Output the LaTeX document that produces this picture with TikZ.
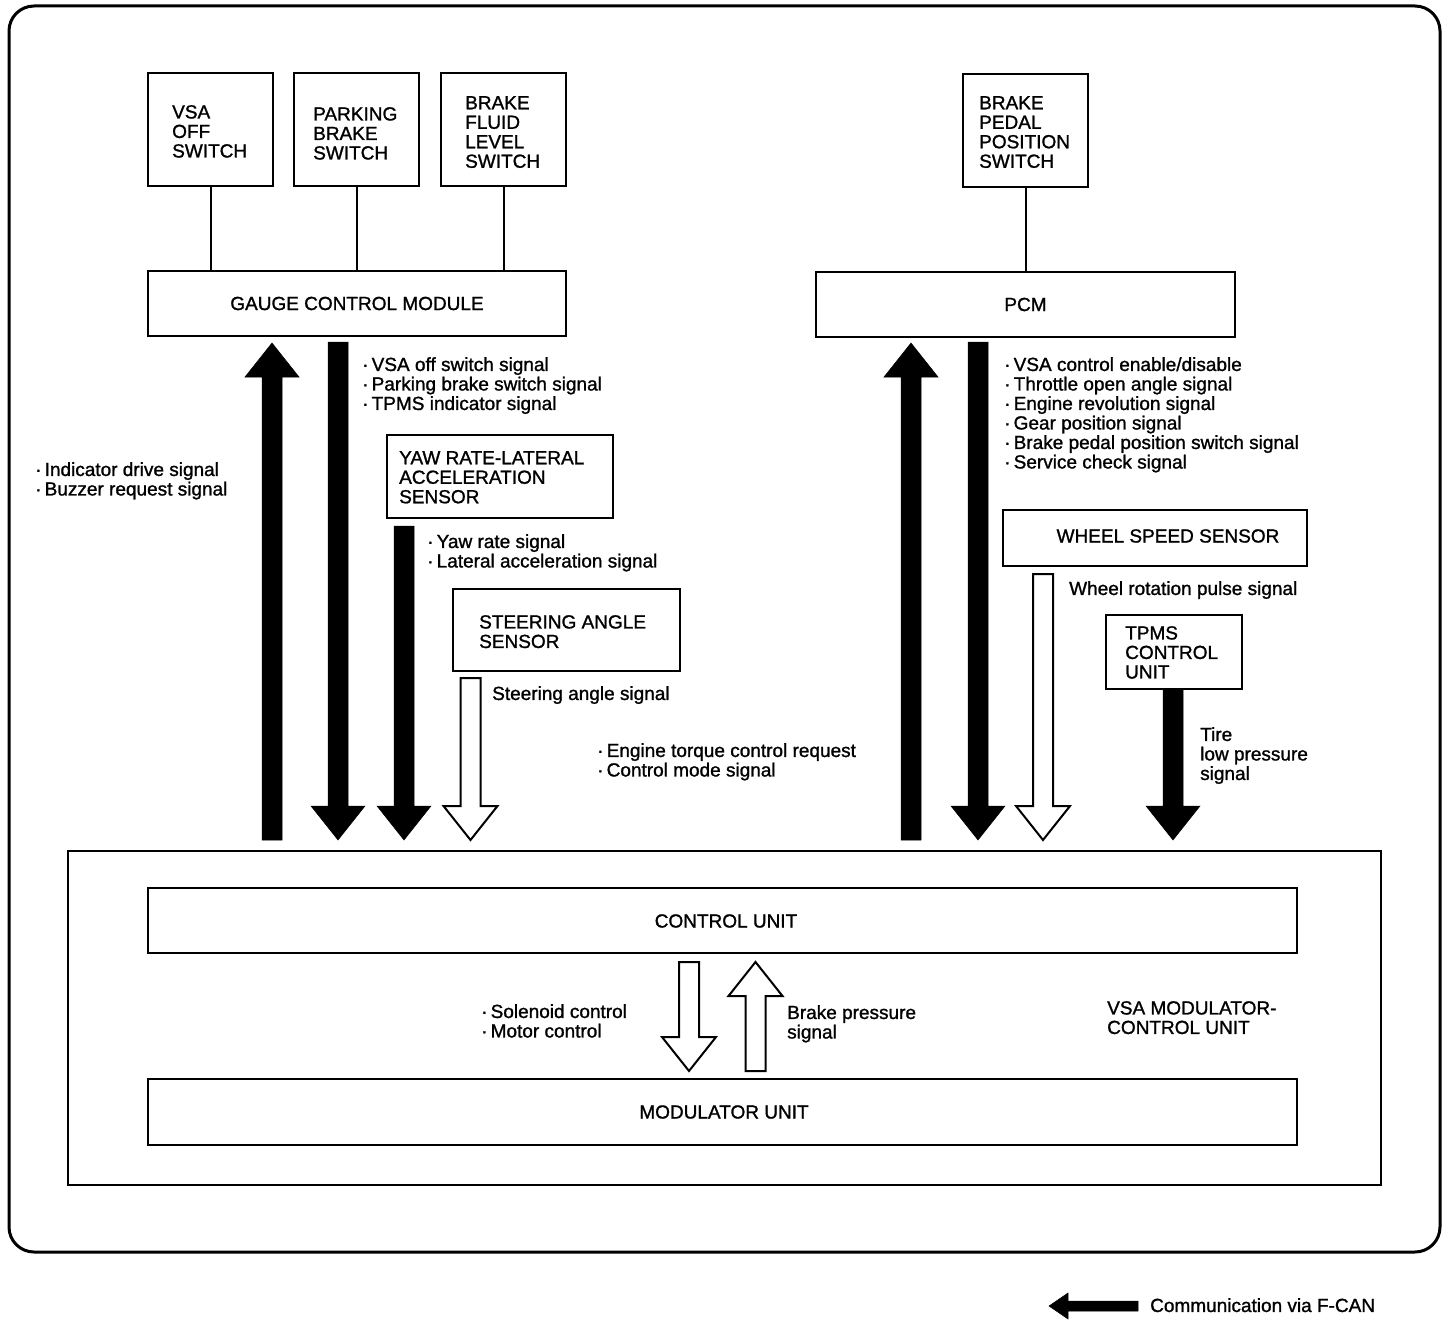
\documentclass[tikz,border=0pt]{standalone}
\usepackage{fontspec}
\setmainfont{Liberation Sans}[FakeBold=1.2]
\begin{document}
\begin{tikzpicture}[x=1pt,y=-1pt,
  box/.style={draw,line width=2.2pt,inner sep=0pt},
  txt/.style={inner sep=0pt,anchor=north west,align=left,font=\fontsize{19}{19.5}\selectfont},
  ctxt/.style={inner sep=0pt,anchor=center,font=\fontsize{19}{19.5}\selectfont},
  wire/.style={line width=2pt},
  solidarrow/.style={fill=black,draw=black,line width=0.5pt},
  hollowarrow/.style={fill=white,draw=black,line width=2pt,line join=miter}]
\useasboundingbox (0,0) rectangle (1456,1332);
\fill[white] (0,0) rectangle (1456,1332);

% outer frame
\draw[line width=3pt,rounded corners=25pt] (9,6) rectangle (1440,1252);

% top boxes
\node[box,minimum width=125pt,minimum height=113pt] (vsaoff) at (210.5,129.5) {};
\node[box,minimum width=125pt,minimum height=113pt] (pbs) at (356.5,129.5) {};
\node[box,minimum width=125pt,minimum height=113pt] (bfl) at (503.5,129.5) {};
\node[box,minimum width=125pt,minimum height=113pt] (bpp) at (1025.5,130.5) {};
\node[txt] (tvsaoff) at (172,105) {VSA\\OFF\\SWITCH};
\node[txt] (tpbs) at (313,107) {PARKING\\BRAKE\\SWITCH};
\node[txt] (tbfl) at (465,96) {BRAKE\\FLUID\\LEVEL\\SWITCH};
\node[txt] (tbpp) at (979,96) {BRAKE\\PEDAL\\POSITION\\SWITCH};

\node[box,minimum width=418pt,minimum height=65pt] (gcm) at (357,303.5) {};
\node[ctxt] (tgcm) at (gcm.center) {GAUGE CONTROL MODULE};
\node[box,minimum width=419pt,minimum height=65pt] (pcm) at (1025.5,304.5) {};
\node[ctxt] (tpcm) at (pcm.center) {PCM};

\draw[wire] (vsaoff.south) -- (vsaoff.south |- gcm.north);
\draw[wire] (pbs.south) -- (pbs.south |- gcm.north);
\draw[wire] (bfl.south) -- (bfl.south |- gcm.north);
\draw[wire] (bpp.south) -- (bpp.south |- pcm.north);

% middle boxes
\node[box,minimum width=226pt,minimum height=83pt] (yaw) at (500,476.5) {};
\node[txt] (tyaw) at (399,451) {YAW RATE-LATERAL\\ACCELERATION\\SENSOR};
\node[box,minimum width=227pt,minimum height=82pt] (steer) at (566.5,630) {};
\node[txt] (tsteer) at (479,615) {STEERING ANGLE\\SENSOR};
\node[box,minimum width=304pt,minimum height=56pt] (wss) at (1155,538) {};
\node[ctxt] (twss) at (1168,536) {WHEEL SPEED SENSOR};
\node[box,minimum width=136pt,minimum height=74pt] (tpms) at (1174,652) {};
\node[txt] (ttpms) at (1125,626) {TPMS\\CONTROL\\UNIT};

% VSA modulator-control unit
\node[box,minimum width=1313pt,minimum height=334pt] (vsa) at (724.5,1018) {};
\node[box,minimum width=1149pt,minimum height=65pt] (cu) at (722.5,920.5) {};
\node[ctxt] (tcu) at (726,921) {CONTROL UNIT};
\node[box,minimum width=1149pt,minimum height=66pt] (mu) at (722.5,1112) {};
\node[ctxt] (tmu) at (724,1112) {MODULATOR UNIT};
\node[txt] (tvsa) at (1107,1001) {VSA MODULATOR-\\CONTROL UNIT};

% signal labels
\node[txt] (lgcmdown) at (362,357) {·\,VSA off switch signal\\·\,Parking brake switch signal\\·\,TPMS indicator signal};
\node[txt] (lgcmup) at (35,462) {·\,Indicator drive signal\\·\,Buzzer request signal};
\node[txt] (lyaw) at (427,534) {·\,Yaw rate signal\\·\,Lateral acceleration signal};
\node[txt] (lsteer) at (492,686) {Steering angle signal};
\node[txt] (lpcmup) at (597,743) {·\,Engine torque control request\\·\,Control mode signal};
\node[txt] (lpcmdown) at (1004,357) {·\,VSA control enable/disable\\·\,Throttle open angle signal\\·\,Engine revolution signal\\·\,Gear position signal\\·\,Brake pedal position switch signal\\·\,Service check signal};
\node[txt] (lwss) at (1069,581) {Wheel rotation pulse signal};
\node[txt] (ltpms) at (1200,727) {Tire\\low pressure\\signal};
\node[txt] (lsol) at (481,1004) {·\,Solenoid control\\·\,Motor control};
\node[txt] (lbp) at (787,1005) {Brake pressure\\signal};

% block arrows: shaft half-width 10, head half-width 27, head length 34
\newcommand\arrdown[4]{% x, top, tip, style
  \filldraw[#4] (#1-10,#2) -- (#1+10,#2) -- (#1+10,#3-34) -- (#1+27,#3-34) -- (#1,#3) -- (#1-27,#3-34) -- (#1-10,#3-34) -- cycle;}
\newcommand\arrup[4]{% x, tip, bottom, style
  \filldraw[#4] (#1-10,#3) -- (#1+10,#3) -- (#1+10,#2+34) -- (#1+27,#2+34) -- (#1,#2) -- (#1-27,#2+34) -- (#1-10,#2+34) -- cycle;}

\arrup{272}{343}{840}{solidarrow}
\arrdown{338}{342}{840}{solidarrow}
\arrdown{404}{526}{840}{solidarrow}
\arrdown{470.5}{678}{840}{hollowarrow}
\arrup{911}{343}{840}{solidarrow}
\arrdown{978}{342}{840}{solidarrow}
\arrdown{1043}{574}{840}{hollowarrow}
\arrdown{1173}{690}{840}{solidarrow}
\arrdown{689}{962}{1071}{hollowarrow}
\arrup{755.5}{962}{1071}{hollowarrow}

% legend
\filldraw[solidarrow] (1138,1301) -- (1068,1301) -- (1068,1293) -- (1049,1306) -- (1068,1319) -- (1068,1311) -- (1138,1311) -- cycle;
\node[txt] (lleg) at (1150,1298) {\fontsize{19}{19.5}\selectfont Communication via F-CAN};
\end{tikzpicture}
\end{document}
